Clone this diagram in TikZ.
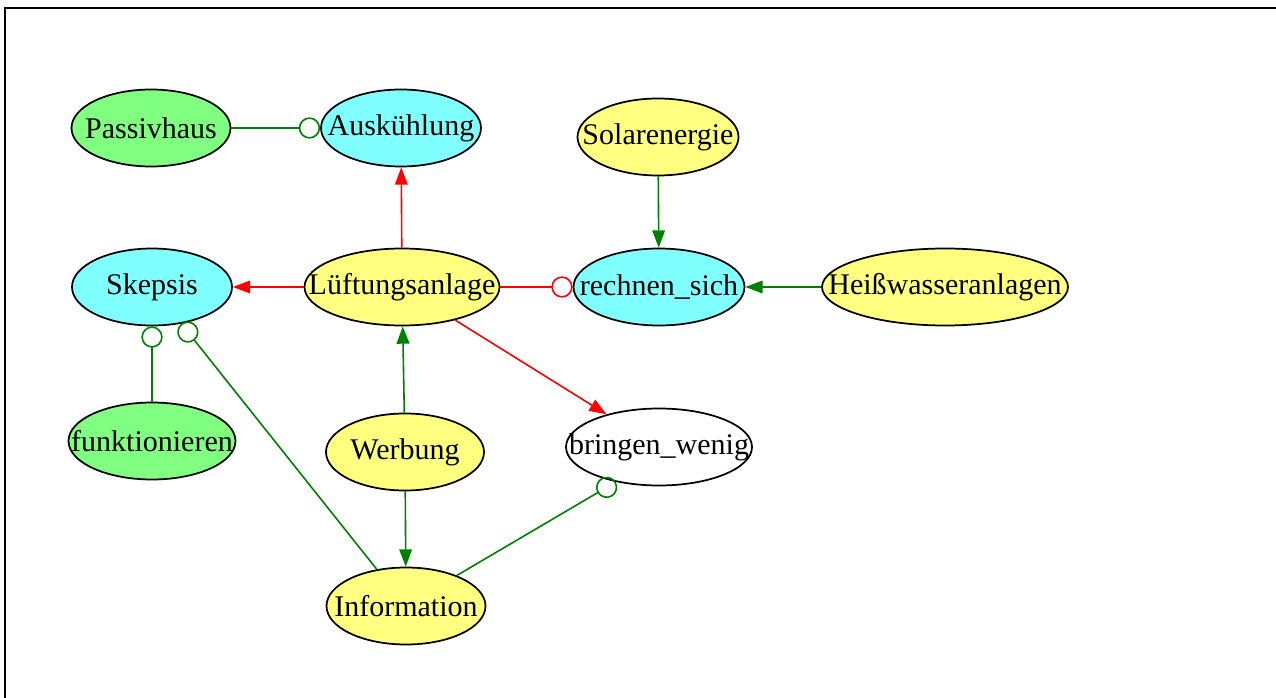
\documentclass[tikz,border=0pt]{standalone}
\usepackage{fontspec}
\setmainfont{Liberation Serif}
\usetikzlibrary{shapes.geometric,arrows.meta}
\definecolor{ngreen}{HTML}{80FF80}
\definecolor{ncyan}{HTML}{80FFFF}
\definecolor{nyellow}{HTML}{FFFF80}
\definecolor{egreen}{HTML}{008000}
\definecolor{ered}{HTML}{FF0000}
\tikzset{
  ell/.style={ellipse, draw=black, line width=1.3pt, inner sep=0pt,
    minimum height=57.75pt, minimum width=#1*0.75pt,
    font=\fontsize{22.5}{26}\selectfont},
  gn/.style={fill=ngreen}, cn/.style={fill=ncyan}, yn/.style={fill=nyellow},
  wn/.style={fill=white},
  edge/.style={line width=1.2pt},
  redarr/.style={edge, draw=ered, -{Triangle[length=13pt,width=9.5pt]}, fill=ered},
  greenarr/.style={edge, draw=egreen, -{Triangle[length=13pt,width=9.5pt]}, fill=egreen},
  redodot/.style={edge, draw=ered, -{Circle[open,length=16pt]}},
  greenodot/.style={edge, draw=egreen, -{Circle[open,length=16pt]}},
}
\newcommand{\zt}[1]{\makebox[0pt]{#1}}
\begin{document}
\begin{tikzpicture}[x=0.75pt,y=-0.75pt]
\useasboundingbox (0,0) rectangle (1276,698);
\draw[line width=1.5pt] (5.3,699) -- (5.3,7.8) -- (1277,7.8);

\node[ell=159,gn] (passiv) at (151,128) {\zt{Passivhaus}};
\node[ell=160,cn] (ausk) at (401,128) {\zt{Auskühlung}};
\node[ell=161,yn] (solar) at (658,137) {\zt{Solarenergie}};
\node[ell=160,cn] (skep) at (152,287) {\zt{Skepsis}};
\node[ell=195,yn] (luft) at (402,287) {\zt{Lüftungsanlage}};
\node[ell=171,cn] (rech) at (659,287) {\zt{rechnen\_sich}};
\node[ell=246,yn] (heiss) at (945,287) {\zt{Heißwasseranlagen}};
\node[ell=167,gn] (funk) at (152,441) {\zt{funktionieren}};
\node[ell=158,yn] (werb) at (405,452) {\zt{Werbung}};
\node[ell=186,wn] (bring) at (659,447) {\zt{bringen\_wenig}};
\node[ell=159,yn] (info) at (406,606) {\zt{Information}};

\draw[greenodot] (passiv) -- (ausk);
\draw[redarr] (luft) -- (ausk);
\draw[redarr] (luft) -- (skep);
\draw[redodot] (luft) -- (rech);
\draw[redarr] (luft) -- (bring);
\draw[greenarr] (solar) -- (rech);
\draw[greenarr] (heiss) -- (rech);
\draw[greenarr] (werb) -- (luft);
\draw[greenarr] (werb) -- (info);
\draw[greenodot] (funk) -- (skep);
\draw[greenodot] (info) -- (skep);
\draw[greenodot] (info.31) -- (bring.219);
\end{tikzpicture}
\end{document}
